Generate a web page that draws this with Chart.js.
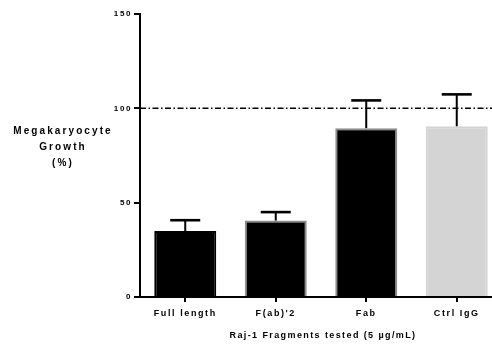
<!DOCTYPE html>
<html>
<head>
<meta charset="utf-8">
<script src="https://cdn.jsdelivr.net/npm/chart.js@4.4.0/dist/chart.umd.min.js"></script>
<style>
html,body{margin:0;padding:0;overflow:hidden;background:#fff}
#wrap{width:502px;height:345px;position:relative}
</style>
</head>
<body>
<div id="wrap"><canvas id="chart"></canvas></div>
<script>
const categories = ['Full length', 'F(ab)\'2', 'Fab', 'Ctrl IgG']
const growth = [35, 40.5, 89.5, 90.5]
const growthErr = [5.7, 4.5, 14.7, 16.9]
const yTicks = [0, 50, 100, 150]
const refLevel = 100

const spacing = {
  id:'spacing',
  beforeLayout(chart){ chart.ctx.letterSpacing = '1.6px' },
  beforeDraw(chart){ chart.ctx.letterSpacing = '1.6px' }
}

const refLine = {
  id:'refLine',
  beforeDatasetsDraw(chart){
    const {ctx, chartArea, scales} = chart
    const y = scales.y.getPixelForValue(refLevel)
    ctx.save()
    ctx.strokeStyle = '#000'
    ctx.lineWidth = 1.5
    ctx.setLineDash([6,2.5,1.5,2.5])
    ctx.beginPath()
    ctx.moveTo(chartArea.left, y)
    ctx.lineTo(chartArea.right, y)
    ctx.stroke()
    ctx.restore()
  }
}

const errorBars = {
  id:'errorBars',
  afterDatasetsDraw(chart){
    const {ctx, scales} = chart
    const meta = chart.getDatasetMeta(0)
    ctx.save()
    ctx.strokeStyle = '#000'
    meta.data.forEach((bar, i) => {
      const yTop = scales.y.getPixelForValue(growth[i] + growthErr[i])
      const yBase = scales.y.getPixelForValue(growth[i])
      ctx.lineWidth = 2
      ctx.beginPath()
      ctx.moveTo(bar.x, yBase)
      ctx.lineTo(bar.x, yTop)
      ctx.stroke()
      ctx.lineWidth = 2.6
      ctx.beginPath()
      ctx.moveTo(bar.x - 15, yTop)
      ctx.lineTo(bar.x + 15, yTop)
      ctx.stroke()
    })
    ctx.restore()
  }
}

const titles = {
  id:'titles',
  afterDraw(chart){
    const ctx = chart.ctx
    ctx.save()
    ctx.fillStyle = '#000'
    ctx.textAlign = 'center'
    ctx.textBaseline = 'middle'
    ctx.font = 'bold 10px "Liberation Sans", Arial, sans-serif'
    ctx.letterSpacing = '2.1px'
    ;['Megakaryocyte', 'Growth', '(%)'].forEach((t, i) => {
      ctx.fillText(t, 63, 131 + i * 16)
    })
    ctx.font = 'bold 9px "Liberation Sans", Arial, sans-serif'
    ctx.letterSpacing = '1.4px'
    ctx.fillText('Raj-1 Fragments tested (5 \u00b5g/mL)', 323, 336)
    ctx.restore()
  }
}

const ctx = document.getElementById('chart')

new Chart(ctx,{
  type:'bar',
  data:{
    labels:categories,
    datasets:[{
      data:growth,
      backgroundColor:['#000000','#000000','#000000','#d4d4d4'],
      borderColor:['#000000','#8c8c8c','#8c8c8c','#d4d4d4'],
      borderWidth:2,
      barPercentage:1,
      categoryPercentage:0.685
    }]
  },
  options:{
    responsive:true,
    maintainAspectRatio:false,
    animation:false,
    layout:{padding:{top:14,right:0,bottom:0,left:0}},
    plugins:{
      legend:{display:false},
      tooltip:{enabled:false}
    },
    scales:{
      x:{
        afterFit(s){ s.height = 48 },
        grid:{drawOnChartArea:false, drawTicks:true, tickLength:5, offset:false, color:'#000', lineWidth:2},
        border:{display:true, color:'#000', width:2},
        ticks:{color:'#000', padding:6, font:{family:'"Liberation Sans", Arial, sans-serif', size:9, weight:'bold'}}
      },
      y:{
        min:0,
        max:150,
        afterFit(s){ s.width = 140 },
        afterBuildTicks(s){ s.ticks = yTicks.map(v => ({value:v})) },
        grid:{drawOnChartArea:false, drawTicks:true, tickLength:6, color:'#000', lineWidth:2},
        border:{display:true, color:'#000', width:2},
        ticks:{color:'#000', padding:2, font:{family:'"Liberation Sans", Arial, sans-serif', size:8, weight:'bold'}}
      }
    }
  },
  plugins:[spacing, refLine, errorBars, titles]
})
</script>
</body>
</html>
